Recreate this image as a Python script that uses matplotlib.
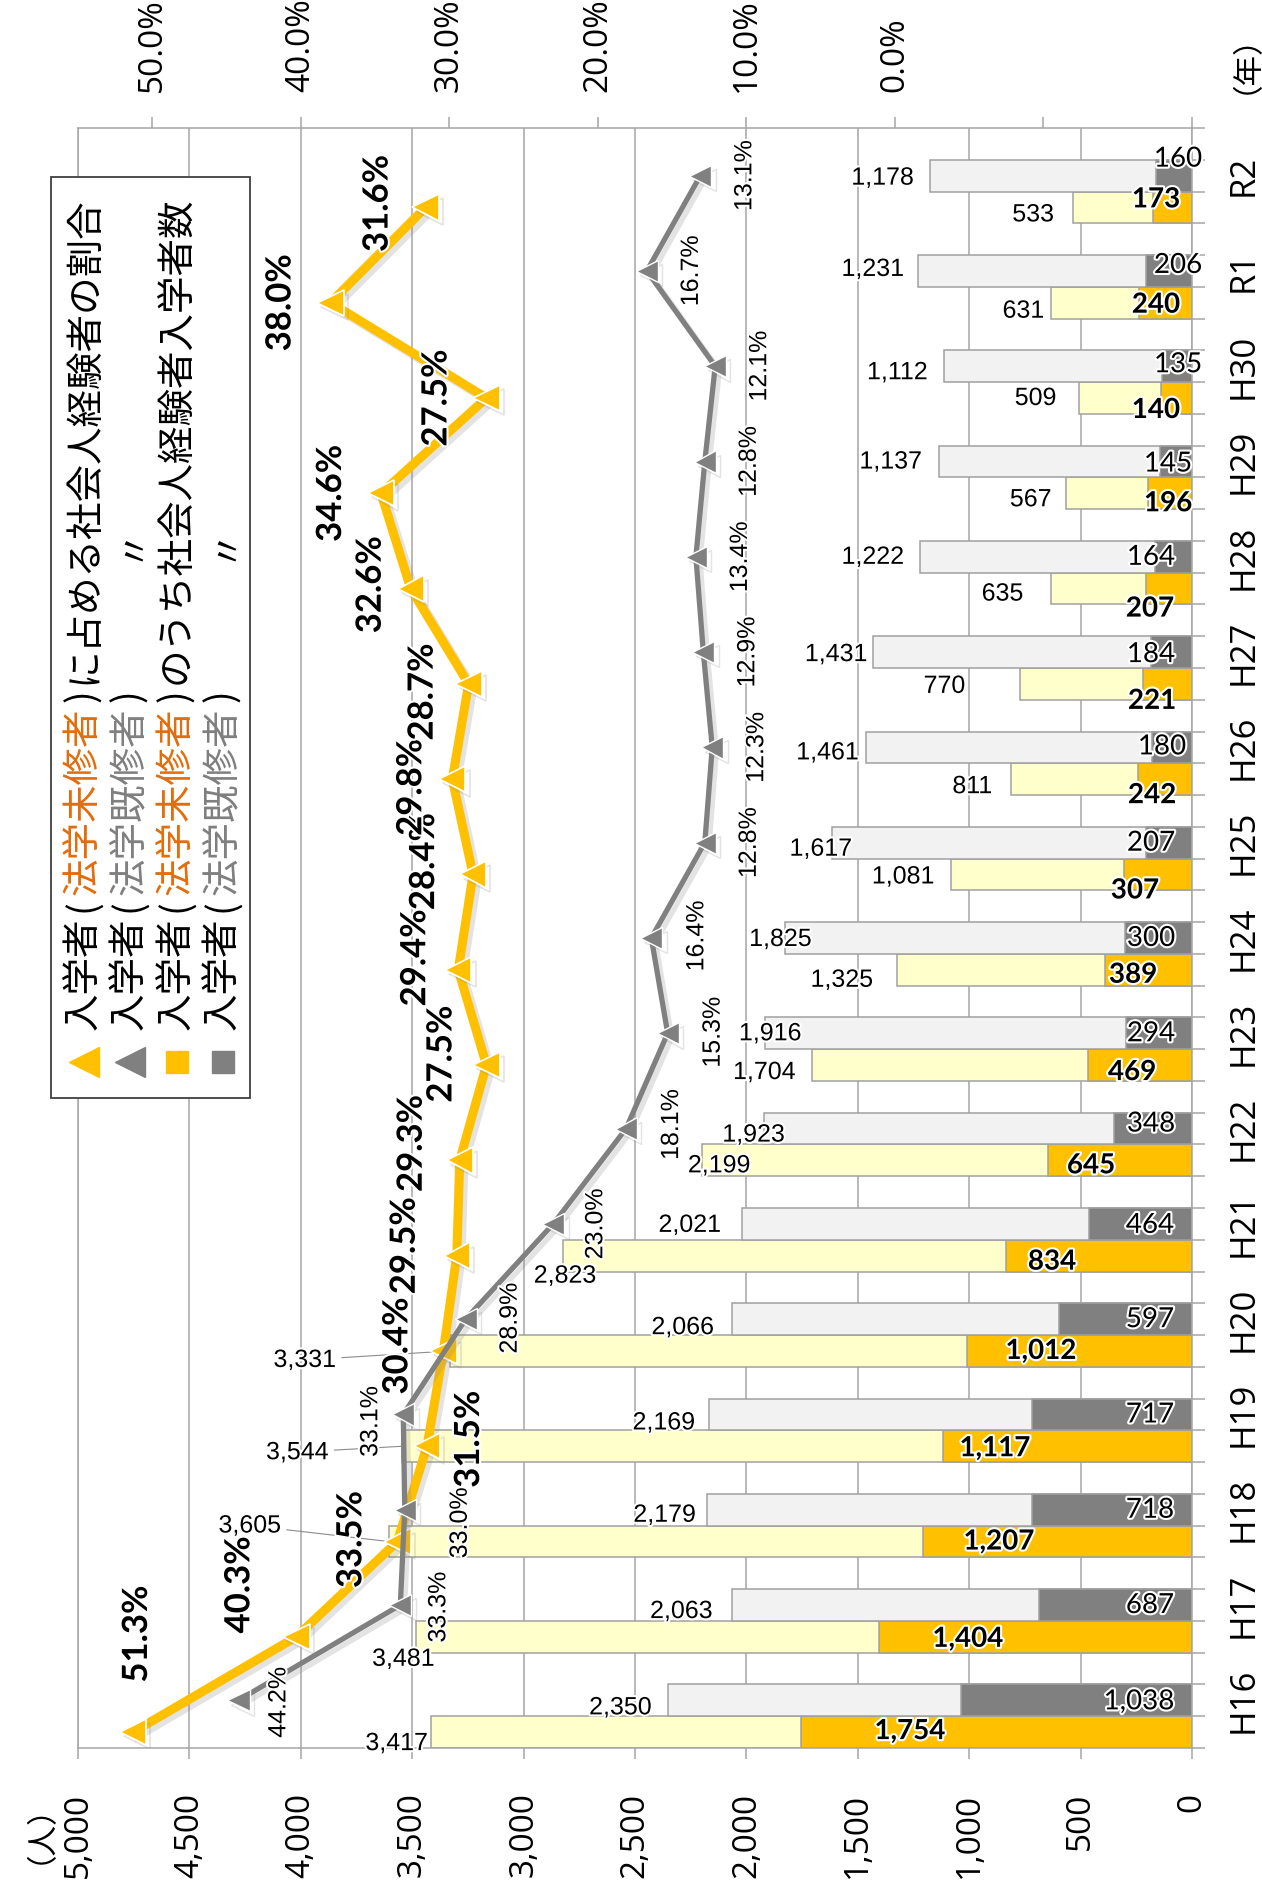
import numpy as np
import matplotlib
matplotlib.use("Agg")
import matplotlib.pyplot as plt
import matplotlib.patheffects as pe
from matplotlib.font_manager import fontManager
from matplotlib.lines import Line2D
from matplotlib.patches import Rectangle

# data
years = ["H16", "H17", "H18", "H19", "H20", "H21", "H22", "H23", "H24",
         "H25", "H26", "H27", "H28", "H29", "H30", "R1", "R2"]
mishu_total = [3417, 3481, 3605, 3544, 3331, 2823, 2199, 1704, 1325,
               1081, 811, 770, 635, 567, 509, 631, 533]
mishu_shakai = [1754, 1404, 1207, 1117, 1012, 834, 645, 469, 389,
                307, 242, 221, 207, 196, 140, 240, 173]
kishu_total = [2350, 2063, 2179, 2169, 2066, 2021, 1923, 1916, 1825,
               1617, 1461, 1431, 1222, 1137, 1112, 1231, 1178]
kishu_shakai = [1038, 687, 718, 717, 597, 464, 348, 294, 300,
                207, 180, 184, 164, 145, 135, 206, 160]
mishu_ratio = [51.3, 40.3, 33.5, 31.5, 30.4, 29.5, 29.3, 27.5, 29.4,
               28.4, 29.8, 28.7, 32.6, 34.6, 27.5, 38.0, 31.6]
kishu_ratio = [44.2, 33.3, 33.0, 33.1, 28.9, 23.0, 18.1, 15.3, 16.4,
               12.8, 12.3, 12.9, 13.4, 12.8, 12.1, 16.7, 13.1]

# label offsets in pixels (dx, dy up), hand placed like the original
off_mi_pct = [(4, 98), (-57, 52), (-46, 2), (42, 7), (-46, 5), (-52, 10), (-48, 17),
              (-45, 11), (-43, 12), (-49, 13), (-41, -8), (-46, -8), (-40, 4),
              (-50, 0), (-50, 0), (-50, 0), (-48, 4)]
off_ki_pct = [(40, -2), (38, -2), (55, -13), (-33, -7), (44, 1), (42, 0), (45, 4),
              (45, 1), (45, 2)] + [(44, 0)] * 8
off_mi_tot = [(-34, -11), (-13, -22), (-139, 16), (-105, -6), (-145, -9), (2, -20),
              (17, -5), (-48, -7), (-55, -10), (-48, -2), (-39, -7), (-76, -2),
              (-48, -5), (-35, -6), (-43, 0), (-28, -8), (-40, -7)]
leader = {2, 3, 4}
off_ki_tot = [(-48, -7), (-51, -6), (-42, -5), (-45, -8), (-49, -8), (-52, -1),
              (-10, -6), (5, 0), (-5, -1), (-11, -6), (-39, -5), (-37, -2),
              (-47, 0), (-48, 0), (-47, -6), (-45, 2), (-47, -2)]
off_mi_sk = [(-282, 1), (-224, -2), (-193, 0), (-197, -2), (-151, 0), (-140, -6),
             (-101, -5), (-60, -7), (-59, -5), (-57, -16), (-40, -16), (-40, -17),
             (-42, -20), (-24, -10), (-36, -12), (-36, -2), (-36, 8)]
off_ki_sk = [(-53, -1), (-42, 0), (-42, 0), (-42, 0), (-42, 0), (-42, -1), (-41, 5),
             (-41, 0), (-41, 0), (-41, 0), (-30, 1), (-41, -2), (-41, 0), (-24, -2),
             (-14, 2), (-14, 6), (-14, 17)]

names = {f.name for f in fontManager.ttflist}


def pick(*cands):
    for c in cands:
        if c in names:
            return c
    return "DejaVu Sans"


JP = pick("Noto Sans CJK JP", "Noto Sans CJK SC")
NUM = pick("Open Sans", "Noto Sans", "DejaVu Sans")
ARIAL = pick("Liberation Sans", "Arimo", "DejaVu Sans")
CAL = pick("Lato", "Open Sans", "DejaVu Sans")

ORANGE = "#ffc000"
DGRAY = "#808080"
GRID = "#a6a6a6"
W, H = 1262, 1888

fig = plt.figure(figsize=(W / 100, H / 100), dpi=100)
fig.patch.set_facecolor("white")


def fx(x):
    return x / W


def fy(y):
    return 1 - y / H


ax = fig.add_axes([fx(78), fy(1748), (1192 - 78) / W, (1748 - 128) / H])

pos = np.arange(len(years))
y_mi = pos - 1 / 3
y_ki = pos.astype(float)
bh = 1 / 3
edge = dict(edgecolor="#a0a0a0", linewidth=1.1, zorder=2)
ax.barh(y_mi, mishu_total, height=bh, color="#ffffcc", **edge)
ax.barh(y_mi, mishu_shakai, height=bh, color=ORANGE, **edge)
ax.barh(y_ki, kishu_total, height=bh, color="#f2f2f2", **edge)
ax.barh(y_ki, kishu_shakai, height=bh, color=DGRAY, **edge)

ax.set_xlim(5000, 0)
ax.set_ylim(-0.5, 16.5)
xt = np.arange(0, 5001, 500)
ax.set_xticks(xt)
ax.set_xticklabels([f"{v:,}" for v in xt], rotation=90, fontsize=24, family=NUM)
ax.tick_params(axis="x", length=8, width=1.1, color=GRID, pad=24)
ax.grid(axis="x", color=GRID, lw=1.1)
ax.set_axisbelow(True)
ax.yaxis.tick_right()
ax.set_yticks(pos)
ax.set_yticklabels(years, rotation=90, va="center", fontsize=25, family=NUM)
ax.set_yticks(np.arange(-0.5, 16.6, 1 / 3), minor=True)
ax.tick_params(axis="y", which="major", length=0, pad=25)
ax.tick_params(axis="y", which="minor", length=9.5, width=1.1, color=GRID)
for s in ax.spines.values():
    s.set_color(GRID)
    s.set_linewidth(1.1)

glow = [pe.withStroke(linewidth=3, foreground="white")]

# bar value labels
for i in pos:
    dx, dy = off_mi_tot[i]
    kw = {}
    if i in leader:
        kw["arrowprops"] = dict(arrowstyle="-", color="#8c8c8c", lw=0.8,
                                shrinkA=2, shrinkB=0)
    ax.annotate(f"{mishu_total[i]:,}", (mishu_total[i], y_mi[i]), xytext=(dx, dy),
                textcoords="offset pixels", ha="center", va="center", fontsize=18,
                family=ARIAL, zorder=6, path_effects=glow, **kw)
    dx, dy = off_ki_tot[i]
    ax.annotate(f"{kishu_total[i]:,}", (kishu_total[i], y_ki[i]), xytext=(dx, dy),
                textcoords="offset pixels", ha="center", va="center", fontsize=18,
                family=ARIAL, zorder=6, path_effects=glow)
    dx, dy = off_mi_sk[i]
    ax.annotate(f"{mishu_shakai[i]:,}", (0, y_mi[i]), xytext=(dx, dy),
                textcoords="offset pixels", ha="center", va="center", fontsize=20,
                fontweight="bold", family=CAL, zorder=6, path_effects=glow)
    dx, dy = off_ki_sk[i]
    ax.annotate(f"{kishu_shakai[i]:,}", (0, y_ki[i]), xytext=(dx, dy),
                textcoords="offset pixels", ha="center", va="center", fontsize=20,
                family=CAL, zorder=6, path_effects=glow)

# ratio axis
ax2 = ax.twiny()
ax2.set_xlim(55, -20)
pt = np.arange(-20, 51, 10)
ax2.set_xticks(pt)
ax2.set_xticklabels(["" if v < 0 else f"{v:.1f}%" for v in pt], rotation=90,
                    fontsize=24, family=NUM)
ax2.tick_params(axis="x", length=8, width=1.1, color=GRID, pad=18)
for s in ax2.spines.values():
    s.set_visible(False)

shadow = [pe.SimpleLineShadow(offset=(3, -3), shadow_color="#909090", alpha=0.25),
          pe.Normal()]
ax2.plot(mishu_ratio, y_mi, color=ORANGE, lw=6.5, marker="<", ms=19, mec="white",
         mew=1.2, zorder=4, path_effects=shadow)
ax2.plot(kishu_ratio, y_ki, color=DGRAY, lw=3.8, marker="<", ms=16, mec="white",
         mew=1.0, zorder=4, path_effects=shadow)

for i in pos:
    dx, dy = off_mi_pct[i]
    ax2.annotate(f"{mishu_ratio[i]:.1f}%", (mishu_ratio[i], y_mi[i]), xytext=(dx, dy),
                 textcoords="offset pixels", rotation=90, ha="center", va="center",
                 fontsize=25, fontweight="bold", family=CAL, zorder=6,
                 path_effects=glow)
    dx, dy = off_ki_pct[i]
    ax2.annotate(f"{kishu_ratio[i]:.1f}%", (kishu_ratio[i], y_ki[i]), xytext=(dx, dy),
                 textcoords="offset pixels", rotation=90, ha="center", va="center",
                 fontsize=18, family=ARIAL, zorder=6, path_effects=glow)

# legend (drawn by hand: vertical text with coloured parts)
fig.add_artist(Rectangle((fx(51), fy(1098)), (250 - 51) / W, (1098 - 177) / H,
                         transform=fig.transFigure, facecolor="white",
                         edgecolor="#404040", linewidth=1.3, zorder=10))
MIS = "#e46c0a"
KIS = "#7f7f7f"
entries = [
    ("<", ORANGE, [("入学者", "k"), ("(", "k"), ("法学未修者", MIS), (")", "k"),
                   ("に占める社会人経験者の割合", "k")]),
    ("<", DGRAY, [("入学者", "k"), ("(", "k"), ("法学既修者", KIS), (")", "k"),
                  (3.3, None), ("〃", "k")]),
    ("s", ORANGE, [("入学者", "k"), ("(", "k"), ("法学未修者", MIS), (")", "k"),
                   ("のうち社会人経験者入学者数", "k")]),
    ("s", DGRAY, [("入学者", "k"), ("(", "k"), ("法学既修者", KIS), (")", "k"),
                  (3.3, None), ("〃", "k")]),
]
leg_x = [84, 130, 177, 223]
fs_leg = 27
renderer = fig.canvas.get_renderer()
for (mk, mc, pieces), x in zip(entries, leg_x):
    fig.add_artist(Line2D([fx(x)], [fy(1062)], marker=mk, ms=21 if mk == "<" else 16,
                          color=mc, linestyle="none", transform=fig.transFigure,
                          zorder=11))
    y = 1030
    for txt, col in pieces:
        if col is None:
            y -= txt * fs_leg * 100 / 72
            continue
        t = fig.text(fx(x), fy(y), txt, color=col, fontsize=fs_leg, family=JP,
                     rotation=90, rotation_mode="anchor", ha="left", va="center",
                     zorder=11)
        y -= t.get_window_extent(renderer).height + 5

fig.text(fx(24), fy(1818), "（人）", rotation=90, ha="center", va="center",
         fontsize=22, family=JP)
fig.text(fx(1230), fy(48), "（年）", rotation=90, ha="center", va="center",
         fontsize=22, family=JP)

fig.savefig("out.png", dpi=100, facecolor="white")
